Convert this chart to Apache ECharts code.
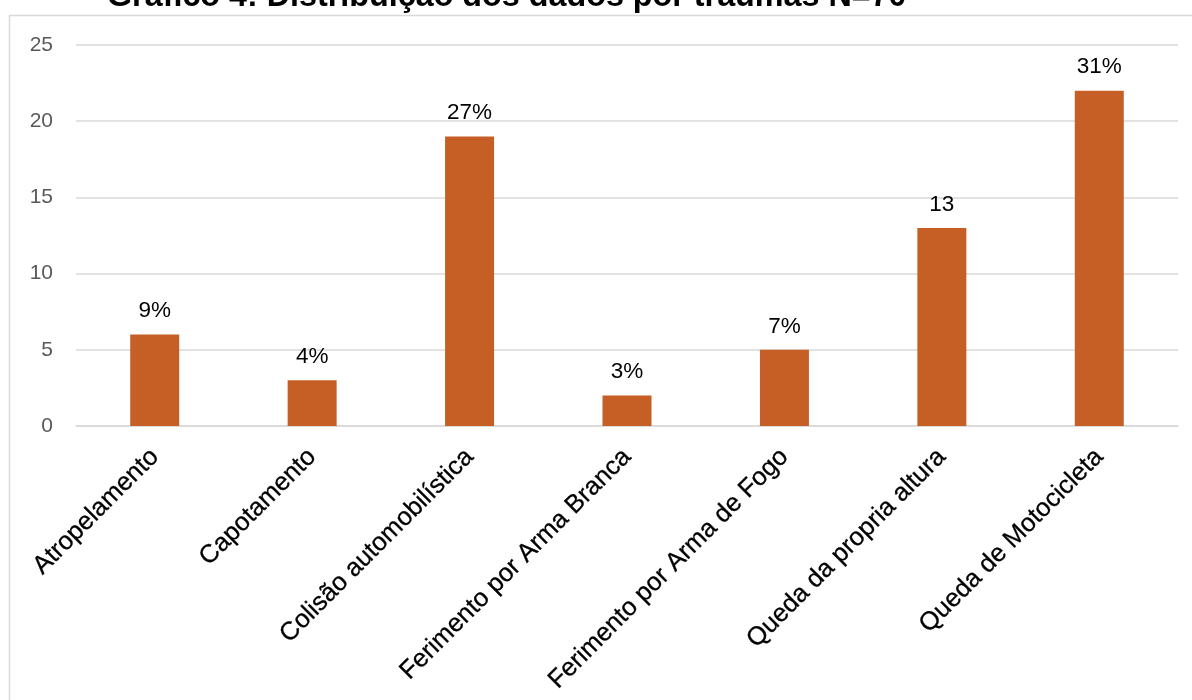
<!DOCTYPE html>
<html>
<head>
<meta charset="utf-8">
<script src="https://cdn.jsdelivr.net/npm/echarts@6/dist/echarts.min.js"></script>
<style>
  html, body { margin: 0; padding: 0; background: #ffffff; }
  #chart { width: 1192px; height: 700px; }
</style>
</head>
<body>
<div id="chart"></div>
<script>
// Trauma types and their counts
const categories = [
  'Atropelamento',
  'Capotamento',
  'Colisão automobilística',
  'Ferimento por Arma Branca',
  'Ferimento por Arma de Fogo',
  'Queda da propria altura',
  'Queda de Motocicleta'
];
const counts = [6, 3, 19, 2, 5, 13, 22];
const shareLabels = ['9%', '4%', '27%', '3%', '7%', '13', '31%'];
const titleText = 'Gráfico 4: Distribuição dos dados por traumas N=70';

const FONT = '"Liberation Sans", Arial, sans-serif';

const chart = echarts.init(document.getElementById('chart'), null, { renderer: 'canvas' });

chart.setOption({
  backgroundColor: '#ffffff',
  animation: false,
  title: {
    text: titleText,
    left: 107,
    top: -19,
    padding: 0,
    textStyle: { fontFamily: FONT, fontSize: 32.3, fontWeight: 'bold', color: '#000000' }
  },
  graphic: [{
    type: 'rect',
    shape: { x: 9.5, y: 15.5, width: 1300, height: 800 },
    style: { fill: 'none', stroke: '#d9d9d9', lineWidth: 1.5 },
    silent: true,
    z: -1
  }],
  grid: { left: 76, right: 14, top: 45, bottom: 274, containLabel: false },
  xAxis: {
    type: 'category',
    data: categories,
    axisLine: { show: true, lineStyle: { color: '#d9d9d9', width: 1.5 } },
    axisTick: { show: false },
    axisLabel: {
      rotate: 45,
      interval: 0,
      margin: 27,
      fontFamily: FONT,
      fontSize: 25.5,
      color: '#000000',
      textBorderColor: '#000000',
      textBorderWidth: 0.3
    }
  },
  yAxis: {
    type: 'value',
    min: 0,
    max: 25,
    interval: 5,
    axisLine: { show: false },
    axisTick: { show: false },
    splitLine: { lineStyle: { color: '#d9d9d9', width: 1.5 } },
    axisLabel: {
      margin: 23,
      fontFamily: FONT,
      fontSize: 21,
      color: '#595959'
    }
  },
  series: [{
    type: 'bar',
    data: counts,
    barWidth: 49,
    itemStyle: { color: '#c55f26' },
    label: {
      show: true,
      position: 'top',
      distance: 12,
      fontFamily: FONT,
      fontSize: 22.5,
      color: '#000000',
      formatter: p => shareLabels[p.dataIndex]
    }
  }]
});
</script>
</body>
</html>
